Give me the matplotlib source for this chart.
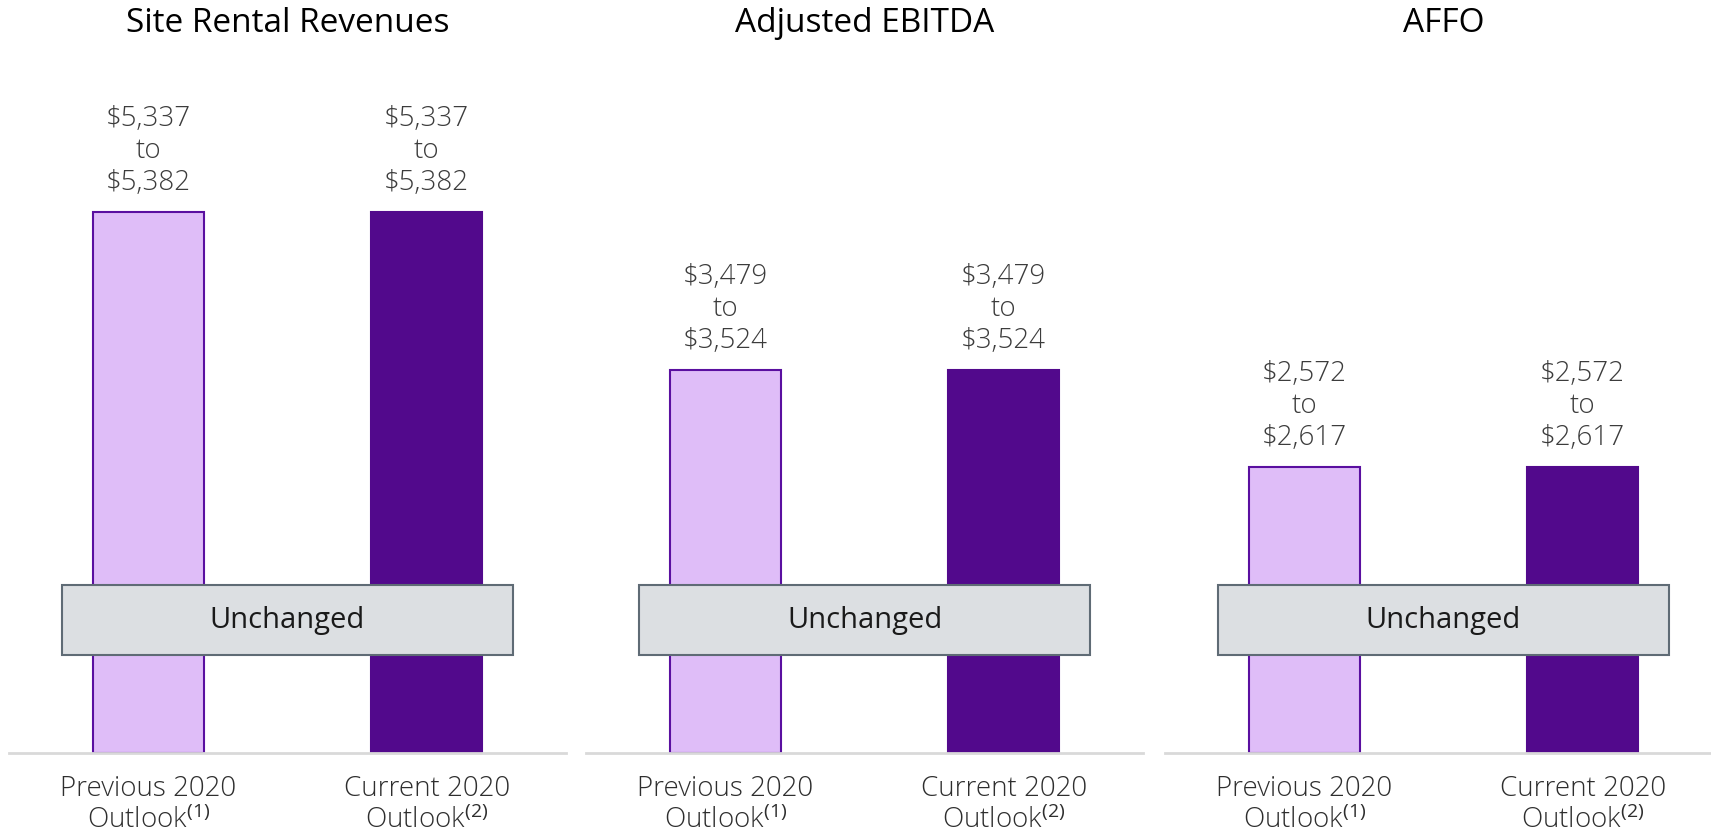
import matplotlib.pyplot as plt
import matplotlib.patches as mpatches

plt.rcParams['font.family'] = ['Open Sans', 'DejaVu Sans']
plt.rcParams['mathtext.fontset'] = 'custom'
plt.rcParams['mathtext.rm'] = 'Open Sans'
plt.rcParams['mathtext.it'] = 'Open Sans'

# data ($ millions)
titles = ['Site Rental Revenues', 'Adjusted EBITDA', 'AFFO']
low_vals = [5337, 3479, 2572]
high_vals = [5382, 3524, 2617]
categories = ['Previous 2020\nOutlook$^{(1)}$', 'Current 2020\nOutlook$^{(2)}$']
ymax = [6894, 6376, 6341]

light = '#DFBDF8'
dark = '#52098C'
edge = '#5A0FA0'

fig = plt.figure(figsize=(17.11, 8.32), dpi=100)
W, H = 1711, 832
lefts = [9, 586, 1165]
ax_w = 557
bottom, top = 753, 60

for i in range(3):
    ax = fig.add_axes([lefts[i] / W, 1 - bottom / H, ax_w / W, (bottom - top) / H])
    vals = [high_vals[i], high_vals[i]]
    ax.bar([0, 1], vals, width=0.4, color=[light, dark],
           edgecolor=[edge, dark], linewidth=1.5, zorder=2)
    ax.set_xlim(-0.5, 1.5)
    ax.set_ylim(0, ymax[i])
    for x, v in zip([0, 1], vals):
        ax.annotate('$%s\nto\n$%s' % (f'{low_vals[i]:,}', f'{high_vals[i]:,}'),
                    (x, v), xytext=(0, 11), textcoords='offset points',
                    ha='center', va='bottom', fontsize=20, color='#3C3C3C',
                    linespacing=1.18, fontweight=300)
    ax.set_xticks([0, 1])
    ax.set_xticklabels(categories, fontsize=20, color='#2E2E2E', linespacing=1.13,
                       fontweight=300)
    ax.tick_params(axis='x', length=0, pad=16)
    ax.set_yticks([])
    for s in ['top', 'left', 'right']:
        ax.spines[s].set_visible(False)
    ax.spines['bottom'].set_color('#D9D9D9')
    ax.spines['bottom'].set_linewidth(2)
    ax.text(0.5, (bottom - 24) / (bottom - top), titles[i], transform=ax.transAxes,
            ha='center', va='center', fontsize=24, color='black')

    # "Unchanged" box
    trans = ax.get_xaxis_transform()
    box = mpatches.Rectangle((-0.31, 0.1414), 1.62, 0.101, transform=trans,
                             facecolor='#DCDFE2', edgecolor='#5F6B75',
                             linewidth=1.5, zorder=3)
    ax.add_patch(box)
    ax.text(0.5, 0.1414 + 0.0505, 'Unchanged', transform=trans, ha='center',
            va='center', fontsize=21, color='#1A1A1A', zorder=4)

plt.savefig('out.png', dpi=100)
